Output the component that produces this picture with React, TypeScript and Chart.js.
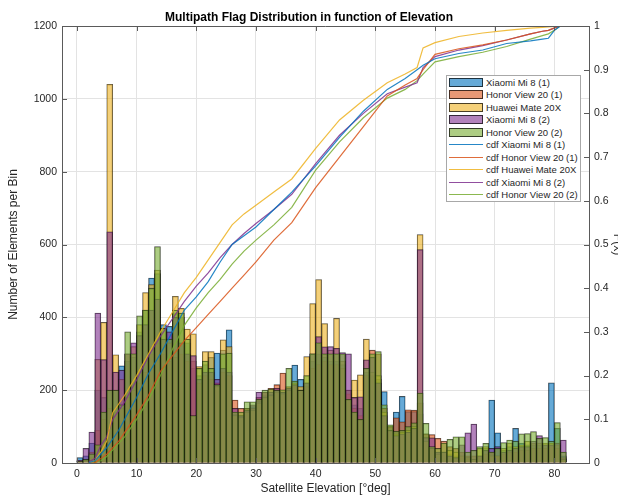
import React, { useEffect, useRef } from "react";
import { Chart, registerables } from "chart.js";

Chart.register(...registerables);

// ---- data ----
const BIN_EDGES = [
  0, 1, 2, 3, 4, 5, 6, 7, 8, 9, 10, 11, 12, 13, 14, 15, 16, 17, 18, 19,
  20, 21, 22, 23, 24, 25, 26, 27, 28, 29, 30, 31, 32, 33, 34, 35, 36, 37, 38, 39,
  40, 41, 42, 43, 44, 45, 46, 47, 48, 49, 50, 51, 52, 53, 54, 55, 56, 57, 58, 59,
  60, 61, 62, 63, 64, 65, 66, 67, 68, 69, 70, 71, 72, 73, 74, 75, 76, 77, 78, 79,
  80, 81,
];

const xiaomi1 = [
  15, 20, 55, 200, 180, 200, 200, 267, 280, 290, 360, 420, 508, 520, 380, 375, 410, 400, 330, 260,
  240, 270, 290, 302, 310, 366, 135, 130, 150, 155, 170, 185, 190, 200, 195, 200, 269, 230, 220, 280,
  300, 290, 280, 280, 270, 200, 160, 150, 250, 240, 230, 196, 100, 140, 183, 141, 141, 135, 80, 40,
  25, 30, 25, 20, 15, 10, 10, 15, 40, 173, 83, 35, 45, 95, 55, 50, 50, 50, 50, 220,
  95, 20,
];
const honor1 = [
  3, 5, 15, 90, 120, 150, 140, 150, 180, 200, 220, 250, 300, 330, 300, 280, 290, 300, 280, 280,
  220, 240, 230, 220, 250, 240, 173, 150, 150, 150, 180, 195, 205, 215, 247, 210, 210, 200, 210, 260,
  270, 280, 270, 270, 260, 190, 150, 130, 240, 310, 300, 150, 100, 124, 113, 146, 145, 165, 80, 78,
  68, 60, 45, 40, 30, 20, 20, 20, 25, 30, 20, 25, 30, 30, 35, 35, 40, 40, 40, 45,
  40, 15,
];
const huawei = [
  5, 8, 30, 285, 386, 1040, 297, 230, 300, 320, 380, 468, 490, 530, 370, 330, 458, 425, 368, 355,
  265, 306, 306, 210, 338, 320, 130, 125, 140, 145, 165, 180, 185, 195, 190, 200, 220, 210, 292, 438,
  504, 383, 310, 397, 280, 200, 228, 242, 340, 250, 240, 140, 90, 80, 85, 90, 100, 627, 60, 40,
  25, 30, 35, 30, 20, 15, 10, 40, 45, 20, 20, 40, 55, 45, 50, 60, 55, 55, 55, 55,
  50, 10,
];
const xiaomi2 = [
  8, 40, 85, 412, 284, 635, 250, 255, 300, 330, 350, 380, 420, 450, 340, 360, 400, 330, 300, 295,
  230, 250, 250, 230, 260, 250, 150, 130, 145, 160, 195, 195, 195, 205, 195, 205, 215, 200, 220, 300,
  347, 319, 320, 315, 303, 300, 180, 182, 283, 290, 220, 130, 90, 75, 80, 85, 95, 586, 70, 69,
  30, 30, 20, 15, 50, 83, 107, 20, 35, 40, 45, 30, 35, 40, 45, 45, 60, 75, 50, 50,
  55, 63,
];
const honor2 = [
  5, 10, 25, 50, 140, 200, 200, 160, 360, 300, 404, 420, 480, 594, 370, 340, 420, 412, 340, 130,
  260, 280, 260, 215, 300, 302, 140, 140, 168, 168, 175, 200, 203, 200, 201, 260, 225, 200, 240, 300,
  330, 300, 300, 300, 300, 175, 140, 120, 260, 300, 306, 160, 105, 87, 90, 100, 110, 192, 109, 45,
  40, 55, 65, 72, 72, 30, 35, 45, 54, 30, 40, 56, 63, 60, 80, 81, 86, 68, 70, 60,
  111, 30,
];

const CDF_DEG = [
  2, 3, 4, 5, 6, 7, 8, 10, 12, 14, 16, 18, 20, 22, 24, 26, 28, 30, 33, 36,
  40, 44, 48, 52, 55, 57, 58, 60, 64, 68, 72, 76, 78, 79, 80, 81,
];
const cdfXiaomi1 = [
  0.001, 0.005, 0.02, 0.035, 0.055, 0.075, 0.1, 0.15, 0.205, 0.25, 0.3, 0.35, 0.38, 0.415, 0.46, 0.5, 0.52, 0.54, 0.58, 0.62,
  0.68, 0.745, 0.805, 0.855, 0.88, 0.9, 0.91, 0.925, 0.937, 0.945, 0.96, 0.966, 0.97, 0.972, 0.99, 1,
];
const cdfHonor1 = [
  0, 0, 0.01, 0.02, 0.035, 0.05, 0.07, 0.11, 0.155, 0.21, 0.245, 0.28, 0.31, 0.34, 0.37, 0.4, 0.43, 0.46, 0.51, 0.55,
  0.63, 0.7, 0.77, 0.84, 0.865, 0.88, 0.9, 0.935, 0.948, 0.957, 0.968, 0.982, 0.988, 0.99, 0.996, 1,
];
const cdfHuawei = [
  0, 0.005, 0.025, 0.05, 0.115, 0.135, 0.155, 0.2, 0.25, 0.3, 0.345, 0.39, 0.425, 0.465, 0.505, 0.545, 0.57, 0.59, 0.62, 0.65,
  0.72, 0.785, 0.83, 0.87, 0.89, 0.905, 0.95, 0.962, 0.976, 0.984, 0.99, 0.995, 0.997, 0.998, 0.999, 1,
];
const cdfXiaomi2 = [
  0.003, 0.01, 0.04, 0.06, 0.1, 0.12, 0.14, 0.19, 0.245, 0.29, 0.33, 0.37, 0.405, 0.435, 0.47, 0.5, 0.525, 0.548, 0.58, 0.615,
  0.685, 0.75, 0.8, 0.845, 0.86, 0.87, 0.905, 0.93, 0.945, 0.955, 0.968, 0.982, 0.988, 0.99, 0.995, 1,
];
const cdfHonor2 = [
  0, 0.001, 0.005, 0.015, 0.03, 0.045, 0.06, 0.1, 0.145, 0.2, 0.26, 0.315, 0.355, 0.39, 0.42, 0.455, 0.485, 0.51, 0.545, 0.585,
  0.67, 0.735, 0.79, 0.835, 0.855, 0.875, 0.89, 0.918, 0.93, 0.94, 0.953, 0.97, 0.978, 0.982, 0.99, 1,
];

const SERIES_NAMES = [
  "Xiaomi Mi 8 (1)",
  "Honor View 20 (1)",
  "Huawei Mate 20X",
  "Xiaomi Mi 8 (2)",
  "Honor View 20 (2)",
];
const X_TICKS = [0, 10, 20, 30, 40, 50, 60, 70, 80];

const HIST = [xiaomi1, honor1, huawei, xiaomi2, honor2];
const CDFS = [cdfXiaomi1, cdfHonor1, cdfHuawei, cdfXiaomi2, cdfHonor2];
const RGB = ["0,114,189", "217,83,25", "237,177,32", "126,47,142", "119,172,48"];

const FONT = "'Liberation Sans', Arial, Helvetica, sans-serif";
const AXIS_COLOR = "#5a5a5a";

// top border of the box and MATLAB-style inward tick marks
const boxPlugin = {
  id: "boxPlugin",
  afterDraw(chart: any) {
    const { ctx, chartArea, scales } = chart;
    const L = 5;
    ctx.save();
    ctx.strokeStyle = AXIS_COLOR;
    ctx.lineWidth = 1;
    ctx.beginPath();
    ctx.moveTo(chartArea.left, chartArea.top + 0.5);
    ctx.lineTo(chartArea.right, chartArea.top + 0.5);
    scales.x.ticks.forEach((t: any) => {
      const px = Math.round(scales.x.getPixelForValue(t.value)) + 0.5;
      ctx.moveTo(px, chartArea.bottom);
      ctx.lineTo(px, chartArea.bottom - L);
      ctx.moveTo(px, chartArea.top);
      ctx.lineTo(px, chartArea.top + L);
    });
    scales.y.ticks.forEach((t: any) => {
      const py = Math.round(scales.y.getPixelForValue(t.value)) + 0.5;
      ctx.moveTo(chartArea.left, py);
      ctx.lineTo(chartArea.left + L, py);
    });
    scales.y1.ticks.forEach((t: any) => {
      const py = Math.round(scales.y1.getPixelForValue(t.value)) + 0.5;
      ctx.moveTo(chartArea.right, py);
      ctx.lineTo(chartArea.right - L, py);
    });
    ctx.stroke();
    ctx.restore();
  },
};

export default function App() {
  const ref = useRef<HTMLCanvasElement | null>(null);

  useEffect(() => {
    if (!ref.current) return;
    Chart.defaults.font.family = FONT;
    const barSets = HIST.map((vals, k) => ({
      type: "bar" as const,
      label: SERIES_NAMES[k],
      data: BIN_EDGES.map((e, i) => ({ x: e + 0.5, y: vals[i] })),
      backgroundColor: `rgba(${RGB[k]},0.6)`,
      borderColor: "rgba(0,0,0,0.7)",
      borderWidth: 0.6,
      grouped: false,
      barPercentage: 1,
      categoryPercentage: 1,
      yAxisID: "y",
      order: 10 - k,
    }));
    const lineSets = CDFS.map((vals, k) => ({
      type: "line" as const,
      label: "cdf " + SERIES_NAMES[k],
      data: CDF_DEG.map((d, i) => ({ x: d, y: vals[i] })),
      borderColor: `rgba(${RGB[k]},0.85)`,
      borderWidth: 1.2,
      pointRadius: 0,
      tension: 0,
      fill: false,
      yAxisID: "y1",
      order: 0,
    }));

    const chart = new Chart(ref.current, {
      type: "bar",
      data: { datasets: [...barSets, ...lineSets] as any },
      options: {
        responsive: false,
        animation: false,
        layout: { padding: 0 },
        plugins: {
          legend: { display: false },
          tooltip: { enabled: false },
          title: {
            display: true,
            text: "Multipath Flag Distribution in function of Elevation",
            color: "#000",
            font: { size: 12, weight: "bold", family: FONT, lineHeight: 1.2 },
            padding: { top: 10.8, bottom: 0.8 },
          },
        },
        scales: {
          x: {
            type: "linear",
            offset: false,
            min: -2.5,
            max: 85.8,
            afterBuildTicks: (s: any) => {
              s.ticks = X_TICKS.map((v) => ({ value: v }));
            },
            afterFit: (s: any) => {
              s.height = 34;
            },
            grid: { color: "#e3e3e3", drawTicks: false, offset: false },
            border: { color: AXIS_COLOR },
            ticks: {
              padding: 5,
              color: "#262626",
              font: { size: 10.5 },
              maxRotation: 0,
              callback: (v: any) => String(v),
            },
            title: {
              display: true,
              text: "Satellite Elevation [°deg]",
              color: "#262626",
              font: { size: 12 },
              padding: { top: 0, bottom: 1.5 },
            },
          },
          y: {
            position: "left",
            min: 0,
            max: 1200,
            afterFit: (s: any) => {
              s.width = 62;
            },
            grid: { color: "#e3e3e3", drawTicks: false },
            border: { color: AXIS_COLOR },
            ticks: {
              stepSize: 200,
              padding: 5,
              color: "#262626",
              font: { size: 10.5 },
              callback: (v: any) => String(v),
            },
            title: {
              display: true,
              text: "Number of Elements per Bin",
              color: "#262626",
              font: { size: 12 },
              padding: { top: 6, bottom: 0 },
            },
          },
          y1: {
            position: "right",
            min: 0,
            max: 1,
            afterFit: (s: any) => {
              s.width = 29;
            },
            grid: { drawOnChartArea: false, drawTicks: false },
            border: { color: AXIS_COLOR },
            ticks: {
              stepSize: 0.1,
              padding: 5,
              color: "#262626",
              font: { size: 10.5 },
              callback: (v: any) => String(Math.round(v * 10) / 10),
            },
            title: {
              display: true,
              text: "F(x)",
              color: "#262626",
              font: { size: 12 },
              padding: { top: -7, bottom: 0 },
            },
          },
        },
      } as any,
      plugins: [boxPlugin],
    });
    return () => chart.destroy();
  }, []);

  const legendItems = [
    ...SERIES_NAMES.map((n, k) => ({ name: n, k, bar: true })),
    ...SERIES_NAMES.map((n, k) => ({ name: "cdf " + n, k, bar: false })),
  ];

  return (
    <div style={{ position: "absolute", left: 0, top: 0, width: 618, height: 497, background: "#fff" }}>
      <canvas ref={ref} width={618} height={497} style={{ display: "block", width: 618, height: 497 }} />
      <div
        style={{
          position: "absolute",
          left: 446,
          top: 75,
          width: 133,
          height: 125,
          background: "#fff",
          border: "1px solid #a8a8a8",
          fontFamily: FONT,
          fontSize: 9.5,
          color: "#262626",
        }}
      >
        {legendItems.map((it, i) => (
          <div
            key={i}
            style={{
              position: "absolute",
              left: 2,
              top: 0.1 + 12.5 * i,
              height: 12.5,
              display: "flex",
              alignItems: "center",
              whiteSpace: "nowrap",
            }}
          >
            {it.bar ? (
              <div
                style={{
                  width: 32,
                  height: 7,
                  background: `rgba(${RGB[it.k]},0.6)`,
                  border: "1px solid rgba(0,0,0,0.7)",
                }}
              />
            ) : (
              <div style={{ width: 34, height: 0, borderTop: `1.2px solid rgba(${RGB[it.k]},0.85)` }} />
            )}
            <span style={{ marginLeft: 3 }}>{it.name}</span>
          </div>
        ))}
      </div>
    </div>
  );
}
